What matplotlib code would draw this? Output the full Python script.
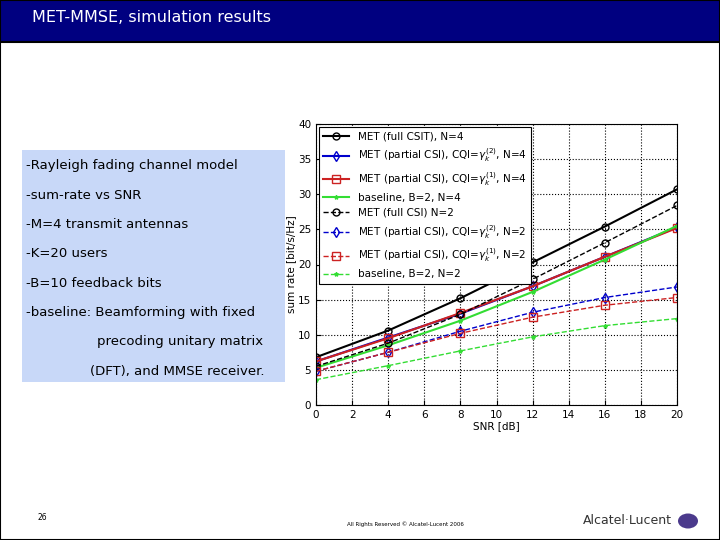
import numpy as np
import matplotlib.pyplot as plt
from matplotlib.patches import Rectangle

snr = [0, 4, 8, 12, 16, 20]
met_full_n4 = [6.8, 10.6, 15.2, 20.3, 25.4, 30.7]
met_cqi2_n4 = [6.2, 9.6, 13.0, 16.9, 21.1, 25.3]
met_cqi1_n4 = [6.2, 9.5, 13.1, 16.9, 21.1, 25.2]
base_n4 = [5.3, 8.5, 12.0, 16.1, 20.7, 25.5]
met_full_n2 = [5.5, 8.8, 12.9, 17.9, 23.1, 28.4]
met_cqi2_n2 = [4.8, 7.5, 10.5, 13.2, 15.3, 16.8]
met_cqi1_n2 = [4.8, 7.5, 10.2, 12.5, 14.2, 15.3]
base_n2 = [3.6, 5.6, 7.7, 9.7, 11.3, 12.3]

bullets = ['-Rayleigh fading channel model', '-sum-rate vs SNR', '-M=4 transmit antennas',
           '-K=20 users', '-B=10 feedback bits', '-baseline: Beamforming with fixed',
           'precoding unitary matrix', '(DFT), and MMSE receiver.']
bullet_x = [26, 26, 26, 26, 26, 26, 97, 90]

fig = plt.figure(figsize=(7.2, 5.4), dpi=100)
W, H = 720, 540

# slide frame and header
fig.patches.append(Rectangle((0, 0), 1, 1, transform=fig.transFigure, fill=False, ec='black', lw=1.5))
fig.patches.append(Rectangle((0, 1 - 42 / H), 1, 42 / H, transform=fig.transFigure,
                             fc='#000080', ec='black', lw=1.5))
fig.text(32 / W, 1 - 18 / H, 'MET-MMSE, simulation results', color='white', fontsize=11.5, va='center')

# left text box
fig.patches.append(Rectangle((22 / W, 1 - 382 / H), 263 / W, 232 / H, transform=fig.transFigure,
                             fc='#c8d8f8', ec='none'))
for i, s in enumerate(bullets):
    fig.text(bullet_x[i] / W, 1 - (166 + 29.3 * i) / H, s, fontsize=9.5, va='center')

# footer
fig.text(38 / W, 1 - 518 / H, '26', fontsize=5.5, va='center')
fig.text(405 / W, 1 - 524 / H, 'All Rights Reserved \u00a9 Alcatel-Lucent 2006', fontsize=4, va='center', ha='center')
fig.text(672 / W, 1 - 521 / H, 'Alcatel\u00b7Lucent', fontsize=9, va='center', ha='right', color='#333333')
fig.patches.append(plt.Circle((688 / W, 1 - 521 / H), 10 / W, transform=fig.transFigure, fc='#4b3a8c'))

ax = fig.add_axes([316 / W, 1 - 405 / H, 361 / W, 281 / H])
ax.plot(snr, met_full_n4, '-o', color='black', mfc='none', ms=5, label='MET (full CSIT), N=4')
ax.plot(snr, met_cqi2_n4, '-d', color='#0000cc', mfc='none', ms=5, label=r'MET (partial CSI), CQI=$\gamma_k^{(2)}$, N=4')
ax.plot(snr, met_cqi1_n4, '-s', color='#cc2222', mfc='none', ms=6, label=r'MET (partial CSI), CQI=$\gamma_k^{(1)}$, N=4')
ax.plot(snr, base_n4, '-*', color='#33dd33', ms=3, lw=1.5, label='baseline, B=2, N=4')
ax.plot(snr, met_full_n2, '--o', color='black', mfc='none', ms=5, lw=1, label='MET (full CSI) N=2')
ax.plot(snr, met_cqi2_n2, '--d', color='#0000cc', mfc='none', ms=5, lw=1, label=r'MET (partial CSI), CQI=$\gamma_k^{(2)}$, N=2')
ax.plot(snr, met_cqi1_n2, '--s', color='#cc2222', mfc='none', ms=6, lw=1, label=r'MET (partial CSI), CQI=$\gamma_k^{(1)}$, N=2')
ax.plot(snr, base_n2, '--*', color='#33dd33', ms=3, lw=1, label='baseline, B=2, N=2')
ax.set_xlim(0, 20)
ax.set_ylim(0, 40)
ax.set_xticks(range(0, 21, 2))
ax.set_yticks(range(0, 41, 5))
ax.tick_params(labelsize=7.5, direction='in')
ax.grid(True, ls=':', color='black', lw=0.8)
ax.set_xlabel('SNR [dB]', fontsize=7.5, labelpad=1)
ax.set_ylabel('sum rate [bit/s/Hz]', fontsize=7.5, labelpad=1)
leg = ax.legend(loc='upper left', fontsize=7.5, fancybox=False, edgecolor='black', framealpha=1,
                borderaxespad=0.3, labelspacing=0.5, handlelength=2.5)
leg.get_frame().set_linewidth(0.8)

fig.savefig('out.png', dpi=100)
